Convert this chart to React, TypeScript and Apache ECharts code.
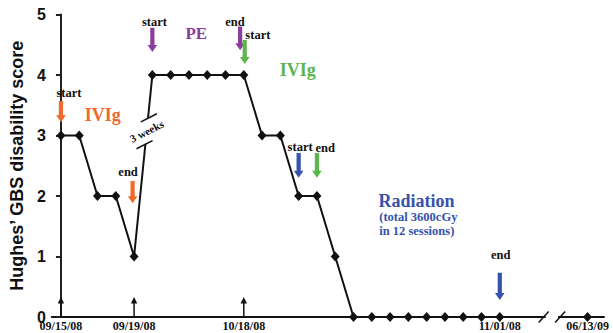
import React, { useEffect, useRef } from "react";
import * as echarts from "echarts";

// ---- data ----
const visitIndex = [0, 1, 2, 3, 4, 5, 6, 7, 8, 9, 10, 11, 12, 13, 14, 15, 16, 17, 18, 19, 20, 21, 22, 23, 24];
const hughesScore = [3, 3, 2, 2, 1, 4, 4, 4, 4, 4, 4, 3, 3, 2, 2, 1, 0, 0, 0, 0, 0, 0, 0, 0, 0];
const followUpIndex = [28.8];
const followUpScore = [0];
const dateTickIndex = [0, 4, 10, 24, 28.8];
const dateTickLabels = ["09/15/08", "09/19/08", "10/18/08", "11/01/08", "06/13/09"];
const scoreTicks = [0, 1, 2, 3, 4, 5];

// ---- annotation layout (data coordinates) ----
const ORANGE = "#EF6A2B";
const PURPLE = "#8A3D9C";
const GREEN = "#5BB64B";
const BLUE = "#3552AD";

const treatmentArrows = [
  { x: 0, top: 3.57, tip: 3.22, color: ORANGE },
  { x: 3.92, top: 2.25, tip: 1.88, color: ORANGE },
  { x: 5, top: 4.78, tip: 4.38, color: PURPLE },
  { x: 9.8, top: 4.8, tip: 4.41, color: PURPLE },
  { x: 10.05, top: 4.58, tip: 4.18, color: GREEN },
  { x: 13, top: 2.71, tip: 2.3, color: BLUE },
  { x: 14, top: 2.71, tip: 2.3, color: GREEN },
  { x: 24, top: 0.73, tip: 0.28, color: BLUE },
];

const annotationTexts = [
  { t: "start", x: 0.44, y: 3.7, color: "#111", size: 12.5, align: "center" },
  { t: "IVIg", x: 2.29, y: 3.34, color: ORANGE, size: 18, align: "center" },
  { t: "end", x: 3.67, y: 2.4, color: "#111", size: 12.5, align: "center" },
  { t: "start", x: 5.11, y: 4.88, color: "#111", size: 12.5, align: "center" },
  { t: "PE", x: 7.4, y: 4.69, color: PURPLE, size: 17, align: "center" },
  { t: "end", x: 9.52, y: 4.88, color: "#111", size: 12.5, align: "center" },
  { t: "start", x: 10.77, y: 4.66, color: "#111", size: 12.5, align: "center" },
  { t: "IVIg", x: 12.95, y: 4.08, color: GREEN, size: 18, align: "center" },
  { t: "start", x: 13.08, y: 2.81, color: "#111", size: 12.5, align: "center" },
  { t: "end", x: 14.45, y: 2.79, color: "#111", size: 12.5, align: "center" },
  { t: "Radiation", x: 19.45, y: 1.92, color: BLUE, size: 18, align: "center" },
  { t: "(total 3600cGy", x: 17.41, y: 1.65, color: BLUE, size: 12.5, align: "left" },
  { t: "in 12 sessions)", x: 17.41, y: 1.42, color: BLUE, size: 12.5, align: "left" },
  { t: "end", x: 24.05, y: 1.02, color: "#111", size: 12.5, align: "center" },
];

const dateMarkerIndex = [0, 4, 10];
const dateMarkerTip = 0.33;
const axisBreakAt = [26.4, 27.3];
const gapFraction = 0.69; // position of "3 weeks" along segment 4 -> 5

const SERIF = "'Times New Roman', 'Liberation Serif', serif";
const SANS = "Arial, 'Liberation Sans', sans-serif";

export default function App() {
  const ref = useRef<HTMLDivElement>(null);

  useEffect(() => {
    if (!ref.current) return;
    const chart = echarts.init(ref.current, undefined, { renderer: "svg" });
    const labelMap: Record<string, string> = {};
    dateTickIndex.forEach((v, i) => (labelMap[String(v)] = dateTickLabels[i]));

    chart.setOption({
      animation: false,
      grid: { left: 50, right: 9, top: 14.5, bottom: 16, containLabel: false },
      xAxis: {
        type: "value",
        min: -0.5,
        max: 29.7,
        axisLine: { show: true, onZero: false, lineStyle: { color: "#111", width: 2 } },
        axisTick: { show: false },
        splitLine: { show: false },
        axisLabel: {
          customValues: dateTickIndex,
          formatter: (v: number) => labelMap[String(v)] ?? "",
          fontFamily: SERIF,
          fontWeight: "bold",
          fontSize: 12,
          color: "#111",
          margin: 3,
          showMinLabel: true,
          showMaxLabel: true,
        },
      },
      yAxis: {
        type: "value",
        min: scoreTicks[0],
        max: scoreTicks[scoreTicks.length - 1],
        interval: 1,
        name: "Hughes\u2019 GBS disability score",
        nameLocation: "middle",
        nameGap: 24,
        nameTextStyle: { fontFamily: SANS, fontWeight: "bold", fontSize: 18, color: "#111" },
        axisLine: { show: true, lineStyle: { color: "#222", width: 2 } },
        axisTick: { show: true, length: 5, lineStyle: { color: "#222", width: 2 } },
        splitLine: { show: false },
        axisLabel: { fontFamily: SANS, fontWeight: "bold", fontSize: 16, color: "#111", margin: 6 },
      },
      series: [
        {
          type: "line",
          data: visitIndex.map((x, i) => [x, hughesScore[i]]),
          symbol: "diamond",
          symbolSize: [9, 10],
          lineStyle: { color: "#111", width: 2 },
          itemStyle: { color: "#111" },
          z: 3,
        },
        {
          type: "line",
          data: followUpIndex.map((x, i) => [x, followUpScore[i]]),
          symbol: "diamond",
          symbolSize: [9, 10],
          itemStyle: { color: "#111" },
          z: 3,
        },
      ],
    });

    const px = (x: number, y: number) => chart.convertToPixel({ gridIndex: 0 }, [x, y]) as number[];
    const graphics: any[] = [];

    treatmentArrows.forEach((a) => {
      const [cx, top] = px(a.x, a.top);
      const tip = px(a.x, a.tip)[1];
      const sw = 2.1, hw = 4.8, hl = 7;
      graphics.push({
        type: "polygon",
        z: 50,
        shape: {
          points: [
            [cx - sw, top], [cx + sw, top], [cx + sw, tip - hl], [cx + hw, tip - hl],
            [cx, tip], [cx - hw, tip - hl], [cx - sw, tip - hl],
          ],
        },
        style: { fill: a.color },
      });
    });

    annotationTexts.forEach((t) => {
      const [x, y] = px(t.x, t.y);
      graphics.push({
        type: "text",
        z: 50,
        x, y,
        style: {
          text: t.t, fill: t.color, fontFamily: SERIF, fontWeight: "bold", fontSize: t.size,
          align: t.align, textAlign: t.align, verticalAlign: "middle", textVerticalAlign: "middle",
        },
      });
    });

    dateMarkerIndex.forEach((d) => {
      const [cx, base] = px(d, 0);
      const tip = px(d, dateMarkerTip)[1];
      graphics.push({ type: "line", z: 50, shape: { x1: cx, y1: base, x2: cx, y2: tip + 5 }, style: { stroke: "#111", lineWidth: 1.5 } });
      graphics.push({ type: "polygon", z: 50, shape: { points: [[cx - 3.2, tip + 6.5], [cx + 3.2, tip + 6.5], [cx, tip]] }, style: { fill: "#111" } });
    });

    // axis break on x axis
    const [b1, ay] = px(axisBreakAt[0], 0);
    const b2 = px(axisBreakAt[1], 0)[0];
    graphics.push({ type: "rect", z: 60, shape: { x: b1 + 2, y: ay - 3, width: b2 - b1 - 4, height: 6 }, style: { fill: "#fff" } });
    [b1, b2].forEach((bx) => {
      graphics.push({ type: "line", z: 61, shape: { x1: bx - 5, y1: ay + 5.5, x2: bx + 5, y2: ay - 5.5 }, style: { stroke: "#111", lineWidth: 1.5 } });
    });

    // "3 weeks" break on data line
    const p4 = px(visitIndex[4], hughesScore[4]);
    const p5 = px(visitIndex[5], hughesScore[5]);
    const gx = p4[0] + (p5[0] - p4[0]) * gapFraction;
    const gy = p4[1] + (p5[1] - p4[1]) * gapFraction;
    graphics.push({
      type: "group",
      x: gx, y: gy,
      rotation: 0.47,
      z: 60,
      children: [
        { type: "rect", z: 60, shape: { x: -20, y: -10.5, width: 40, height: 21 }, style: { fill: "#fff" } },
        { type: "line", z: 61, shape: { x1: -1, y1: -11, x2: 17, y2: -11 }, style: { stroke: "#111", lineWidth: 1.5 } },
        { type: "line", z: 61, shape: { x1: -17, y1: 11, x2: 1, y2: 11 }, style: { stroke: "#111", lineWidth: 1.5 } },
        {
          type: "text", z: 62, x: 0, y: 0,
          style: {
            text: "3 weeks", fill: "#111", fontFamily: SERIF, fontWeight: "bold", fontSize: 11,
            align: "center", textAlign: "center", verticalAlign: "middle", textVerticalAlign: "middle",
          },
        },
      ],
    });

    chart.setOption({ graphic: { elements: graphics } });

    return () => chart.dispose();
  }, []);

  return (
    <div style={{ position: "fixed", left: 0, top: 0, width: 613, height: 333, background: "#fff" }}>
      <div ref={ref} style={{ width: 613, height: 333 }} />
    </div>
  );
}
